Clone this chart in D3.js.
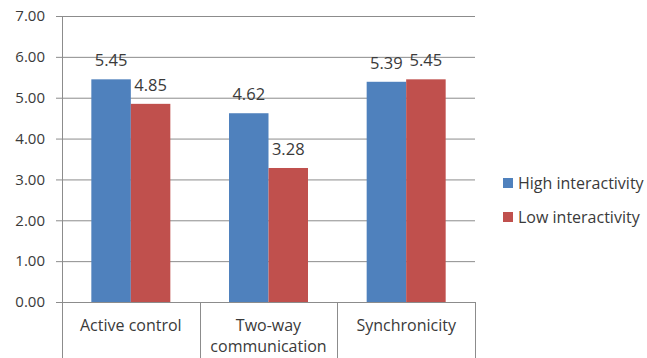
<!DOCTYPE html>
<html>
<head>
<meta charset="utf-8">
<script src="https://cdn.jsdelivr.net/npm/d3@7/dist/d3.min.js"></script>
<style>
  html, body { margin: 0; padding: 0; background: #fff; }
  svg { display: block; }
  text { font-family: "Open Sans", "Liberation Sans", sans-serif; fill: #3a3a3a; }
</style>
</head>
<body>
<svg id="chart" width="647" height="358"></svg>
<script>
// Mean scores per dimension of perceived interactivity
const categories = ["Active control", "Two-way communication", "Synchronicity"];
const categoryLines = [["Active control"], ["Two-way", "communication"], ["Synchronicity"]];
const seriesNames = ["High interactivity", "Low interactivity"];
const highValues = [5.45, 4.62, 5.39];
const lowValues = [4.85, 3.28, 5.45];
const yTicks = [0, 1, 2, 3, 4, 5, 6, 7];
const colors = ["#4F81BD", "#C0504D"];

const svg = d3.select("#chart");
const plotLeft = 62, plotRight = 475, plotTop = 16, plotBottom = 302;

const x = d3.scaleBand().domain(categories).range([plotLeft, plotRight]).paddingInner(0).paddingOuter(0);
const xs = d3.scaleBand().domain(seriesNames).range([0, 79]);
const y = d3.scaleLinear().domain([0, 7]).range([plotBottom, plotTop]);

const gridColor = "#8c8c8c";

// horizontal gridlines with short tick stubs on the left
svg.append("g").selectAll("line").data(yTicks).join("line")
  .attr("x1", plotLeft - 6).attr("x2", plotRight)
  .attr("y1", d => y(d) + 0.5).attr("y2", d => y(d) + 0.5)
  .attr("stroke", gridColor).attr("stroke-width", 1);

// y tick labels
svg.append("g").selectAll("text").data(yTicks).join("text")
  .attr("x", plotLeft - 17).attr("y", d => y(d))
  .attr("dy", "0.35em").attr("text-anchor", "end")
  .style("font-size", "15px")
  .text(d => d.toFixed(2));

// bars
const rows = categories.map((c, i) => ({ c, vals: [highValues[i], lowValues[i]] }));
const groups = svg.append("g").selectAll("g").data(rows).join("g")
  .attr("transform", d => `translate(${x(d.c) + (x.bandwidth() - 79) / 2},0)`);

groups.selectAll("rect").data(d => d.vals.map((v, j) => ({ v, s: seriesNames[j], j })))
  .join("rect")
  .attr("x", d => xs(d.s)).attr("width", xs.bandwidth())
  .attr("y", d => y(d.v)).attr("height", d => y(0) - y(d.v))
  .attr("fill", d => colors[d.j]);

groups.selectAll("text.val").data(d => d.vals.map((v, j) => ({ v, s: seriesNames[j], j })))
  .join("text").attr("class", "val")
  .attr("x", d => xs(d.s) + xs.bandwidth() / 2)
  .attr("y", d => y(d.v) - 13)
  .attr("text-anchor", "middle")
  .style("font-size", "16.5px")
  .text(d => d.v.toFixed(2));

// y axis line and category separators extending below the plot
svg.append("line").attr("x1", plotLeft + 0.5).attr("x2", plotLeft + 0.5)
  .attr("y1", plotTop).attr("y2", 358).attr("stroke", gridColor);
const seps = categories.map(c => x(c) + x.bandwidth());
svg.append("g").selectAll("line").data(seps).join("line")
  .attr("x1", d => Math.round(d) + 0.5).attr("x2", d => Math.round(d) + 0.5)
  .attr("y1", plotBottom).attr("y2", 358).attr("stroke", gridColor);

// category labels
svg.append("g").selectAll("text").data(categories).join("text")
  .attr("x", d => x(d) + x.bandwidth() / 2)
  .attr("y", 331)
  .attr("text-anchor", "middle")
  .style("font-size", "16px")
  .each(function (d, i) {
    const t = d3.select(this);
    categoryLines[i].forEach((ln, k) => {
      t.append("tspan").attr("x", x(d) + x.bandwidth() / 2).attr("dy", k === 0 ? 0 : 21).text(ln);
    });
  });

// legend
const legend = svg.append("g").selectAll("g").data(seriesNames).join("g")
  .attr("transform", (d, i) => `translate(503,${178 + i * 34})`);
legend.append("rect").attr("width", 10).attr("height", 10).attr("fill", (d, i) => colors[i]);
legend.append("text").attr("x", 15).attr("y", 5).attr("dy", "0.35em")
  .style("font-size", "16px").text(d => d);
</script>
</body>
</html>
